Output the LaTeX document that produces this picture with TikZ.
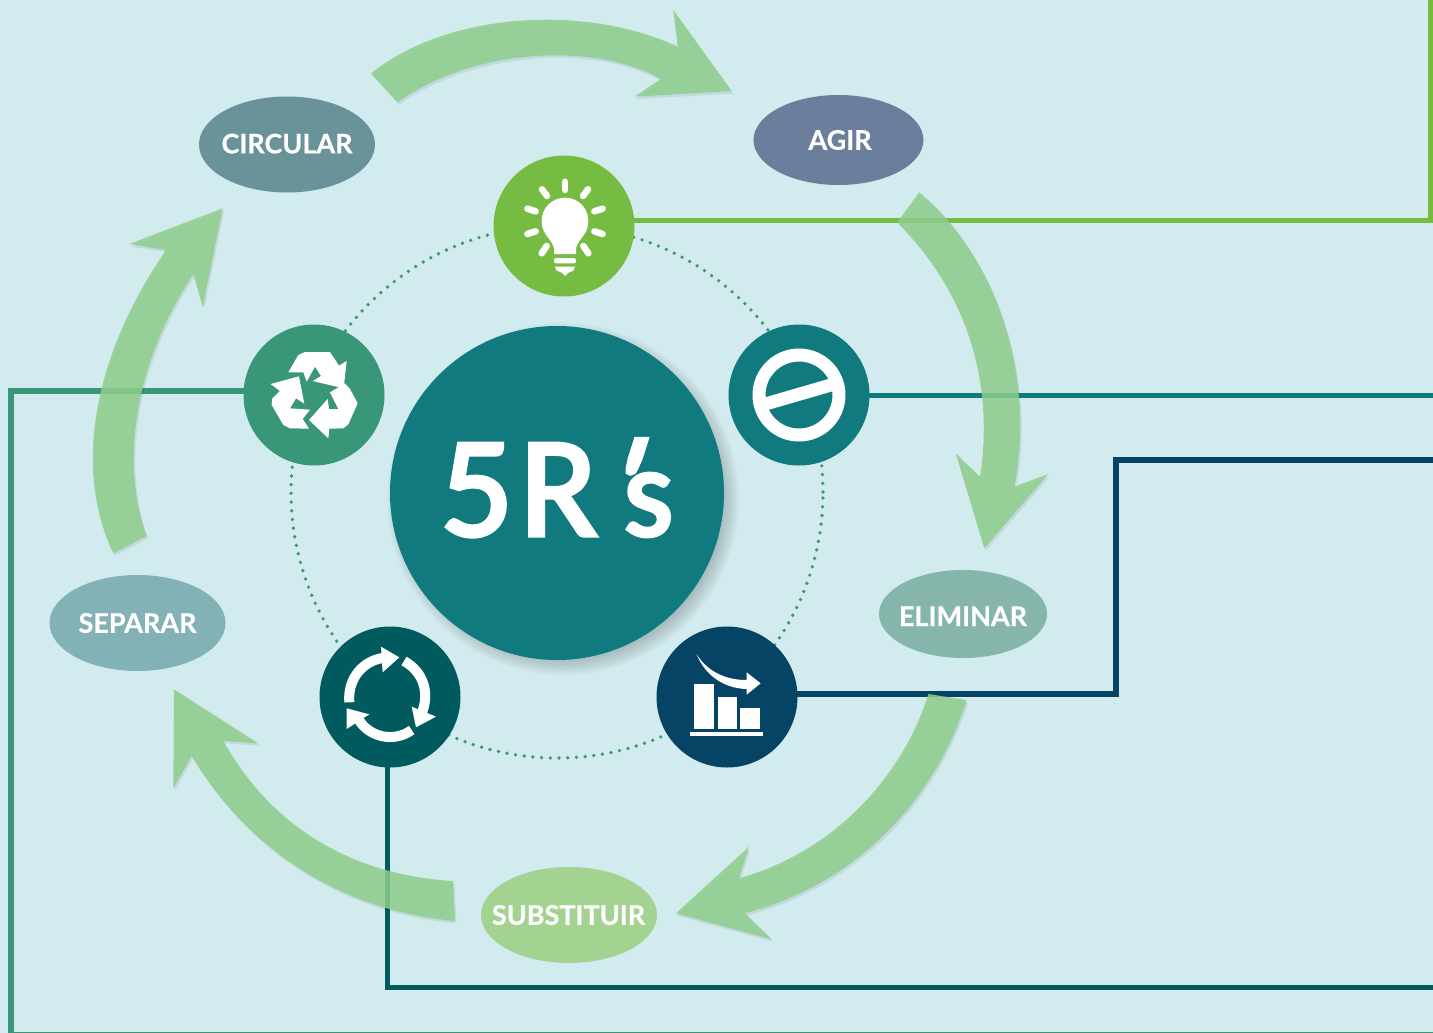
\documentclass[tikz,border=0pt]{standalone}
\usepackage{fontspec}
\setmainfont{Lato}[BoldFeatures={RawFeature={embolden=0.5}}]
\newfontfamily\heavy[RawFeature={embolden=3}]{Carlito}
\newfontfamily\heavyslant[RawFeature={embolden=3;slant=0.32}]{Carlito}
\usetikzlibrary{shapes.geometric}
\definecolor{bgc}{HTML}{D1EBEE}
\definecolor{bigc}{HTML}{107A7F}
\definecolor{bulbc}{HTML}{76BC43}
\definecolor{recc}{HTML}{3A9679}
\definecolor{chartc}{HTML}{064465}
\definecolor{cycc}{HTML}{015A5D}
\definecolor{arrc}{HTML}{8FCE8B}
\definecolor{ovA}{HTML}{6A9399}
\definecolor{ovB}{HTML}{6B7F9C}
\definecolor{ovC}{HTML}{86B5AB}
\definecolor{ovD}{HTML}{A3D291}
\definecolor{ovE}{HTML}{82B2B5}
\newcommand{\ovaltext}[1]{\makebox[0pt][c]{#1}}
\tikzset{
  disc/.style={circle,minimum size=141pt,inner sep=0pt,fill=#1},
  oval/.style={ellipse,inner sep=0pt,fill=#1,text=white,font=\fontsize{27}{27}\selectfont\bfseries},
  link/.style={line width=5.6pt,draw=#1,miter limit=10},
  flow/.style={fill=arrc,fill opacity=.85,draw=none,preaction={fill=black,fill opacity=.07,transform canvas={shift={(1.5pt,-2.5pt)}}}},
  ray/.style={line width=6.5pt,line cap=round,draw=white},
  icon/.style={fill=white,draw=none},
  cyc/.style={line width=10pt,draw=white}
}
\begin{document}
\begin{tikzpicture}[x=1pt,y=-1pt]
\useasboundingbox (0,0) rectangle (1433,1033);
\fill[bgc] (0,0) rectangle (1433,1033);
% dotted ring
\node[circle,minimum size=532pt,inner sep=0pt,draw=recc,line width=3.7pt,line cap=round,dash pattern=on 0pt off 8.72pt] (ring) at (557,492) {};
% free ends
\coordinate (e1a) at (1431,220.3); \coordinate (e1b) at (1431,-5);
\coordinate (e2) at (1440,395.3);
\coordinate (e3a) at (1116,694); \coordinate (e3b) at (1116,460); \coordinate (e3c) at (1440,460);
\coordinate (e4a) at (387.5,987.3); \coordinate (e4b) at (1440,987.3);
\coordinate (e5a) at (11,391); \coordinate (e5b) at (11,1034.8); \coordinate (e5c) at (1440,1034.8);
% disc positions
\coordinate (bulb) at (564,226);
\coordinate (rec) at (314,395);
\coordinate (elim) at (799,395);
\coordinate (chart) at (727,697);
\coordinate (cyc) at (390,697);
% connectors
\draw[link=bulbc] (bulb |- e1a) -- (e1a) -- (e1b);
\draw[link=bigc] (elim |- e2) -- (e2);
\draw[link=chartc] (chart |- e3a) -- (e3a) -- (e3b) -- (e3c);
\draw[link=cycc] (cyc -| e4a) -- (e4a) -- (e4b);
\draw[link=recc] (rec |- e5a) -- (e5a) -- (e5b) -- (e5c);
% flow arrows
\fill[flow] (371,73.3) .. controls (450,10) and (590,5) .. (677.7,46.7) -- (673.3,10) -- (731.7,91) -- (634.3,96.7) -- (661,79) .. controls (590,40) and (470,50) .. (397.7,102.3) -- cycle;
\fill[flow] (919.3,192.3) .. controls (1000,260) and (1035,380) .. (1014.3,486.7) -- (1048.3,474) -- (984.3,548.3) -- (955.7,453.3) -- (980,476.7) .. controls (995,380) and (965,290) .. (897.3,222.3) -- cycle;
\fill[flow] (966.7,700) .. controls (940,785) and (870,880) .. (745,913.3) -- (771.7,939.3) -- (676,913.3) -- (749,846.7) -- (739,878.3) .. controls (840,850) and (905,770) .. (928.3,694) -- cycle;
\fill[flow] (453,881) .. controls (350,875) and (270,825) .. (223.3,740.7) -- (258.3,743.3) -- (174,689.3) -- (173.3,788.3) -- (191.7,756) .. controls (245,845) and (335,910) .. (455,921) -- cycle;
\fill[flow] (146.7,536) .. controls (122,470) and (130,370) .. (193.3,274) -- (202.7,306.7) -- (222.7,208.3) -- (129.3,244) -- (166,250) .. controls (84,370) and (78,480) .. (113.3,553.3) -- cycle;
% ovals
\node[oval=ovA,minimum width=176pt,minimum height=96pt,text depth=2pt] (circular) at (287,144.5) {\ovaltext{CIRCULAR}};
\node[oval=ovB,minimum width=170pt,minimum height=90pt] (agir) at (838.5,140) {\kern3pt\ovaltext{AGIR}};
\node[oval=ovC,minimum width=168pt,minimum height=88pt,text height=24pt] (eliminar) at (963,614) {\ovaltext{ELIMINAR}};
\node[oval=ovD,minimum width=176pt,minimum height=96pt] (subst) at (569,915) {\kern-1pt\ovaltext{SUBSTITUIR}};
\node[oval=ovE,minimum width=176pt,minimum height=96pt] (separar) at (137.5,623) {\ovaltext{SEPARAR}};
% big disc with soft shadow
\foreach \r in {160,162,...,176}
  \fill[black,opacity=.025] (563,499) circle[radius=\r pt];
\node[circle,minimum size=334pt,inner sep=0pt,fill=bigc,text=white,font=\fontsize{143}{143}\heavy] (main) at (557,493) {\raisebox{11.5pt}{5\kern7pt R\kern-3pt{\heavyslant'}\kern-3pt{\fontsize{128}{128}\heavy s}}};
% discs
\node[disc=bulbc] (nbulb) at (bulb) {};
\node[disc=recc] (nrec) at (rec) {};
\node[disc=bigc] (nelim) at (elim) {};
\node[disc=chartc] (nchart) at (chart) {};
\node[disc=cycc] (ncyc) at (cyc) {};
% bulb icon
\begin{scope}[shift={(480,150)},scale=1/3]
\fill[icon] (222,312) -- (222,295) .. controls (215,265) and (185,255) .. (185,213) .. controls (185,172) and (218,143) .. (255,143) .. controls (292,143) and (325,172) .. (325,213) .. controls (325,255) and (295,265) .. (288,295) -- (288,312) -- cycle;
\fill[icon,rounded corners=2pt] (222,324) rectangle (288,340);
\fill[icon] (225,350) -- (285,350) -- (280,362) -- (265,368) -- (255,378) -- (245,368) -- (230,362) -- cycle;
\draw[ray] (255,95) -- (255,120);
\draw[ray] (186,118) -- (201,138);
\draw[ray] (324,118) -- (309,138);
\draw[ray] (142,176) -- (167,184);
\draw[ray] (368,176) -- (343,184);
\draw[ray] (142,252) -- (167,244);
\draw[ray] (368,252) -- (343,244);
\draw[ray] (185,310) -- (200,288);
\draw[ray] (325,310) -- (310,288);
\end{scope}
% recycle icon
\begin{scope}[shift={(235,315)},scale=1/3]
\fill[icon] (160,172) -- (190,120) -- (210,111) -- (285,111) -- (312,152) -- (335,138) -- (326,220) -- (233,198) -- (258,183) -- (240,155) -- (215,200) -- (205,172) -- cycle;
\fill[icon] (285,232) -- (330,205) -- (345,222) -- (368,265) -- (340,328) -- (325,340) -- (283,341) -- (280,370) -- (222,315) -- (278,252) -- (282,282) -- (310,282) -- cycle;
\fill[icon] (107,207) -- (192,184) -- (208,266) -- (183,250) -- (165,280) -- (225,284) -- (203,312) -- (222,341) -- (165,340) -- (145,330) -- (110,270) -- (112,250) -- (135,228) -- cycle;
\end{scope}
% no-entry icon
\draw[white,line width=13pt] (799,395) circle[radius=40pt];
\draw[white,line width=13pt] (762,405) -- (836,383.5);
% chart icon
\begin{scope}[shift={(650,620)},scale=1/3]
\fill[icon] (133,193) rectangle (193,328);
\fill[icon] (203,232) rectangle (262,328);
\fill[icon] (270,264) rectangle (330,328);
\fill[icon] (120,336) rectangle (340,348);
\fill[icon] (140,103) .. controls (165,165) and (220,205) .. (290,207) -- (290,224) -- (332,190) -- (290,157) -- (290,180) .. controls (220,180) and (170,150) .. (140,103) -- cycle;
\end{scope}
% cycle icon
\begin{scope}[shift={(310,615)},scale=1/3]
\draw[cyc] (118,262) .. controls (112,190) and (160,135) .. (225,128);
\fill[icon] (213,95) -- (268,127) -- (218,172) -- cycle;
\draw[cyc] (282,138) .. controls (340,170) and (362,235) .. (333,300);
\fill[icon] (305,275) -- (378,305) -- (318,337) -- cycle;
\draw[cyc] (305,345) .. controls (250,385) and (175,365) .. (145,312);
\fill[icon] (178,298) -- (110,280) -- (110,342) -- cycle;
\end{scope}
\end{tikzpicture}
\end{document}
